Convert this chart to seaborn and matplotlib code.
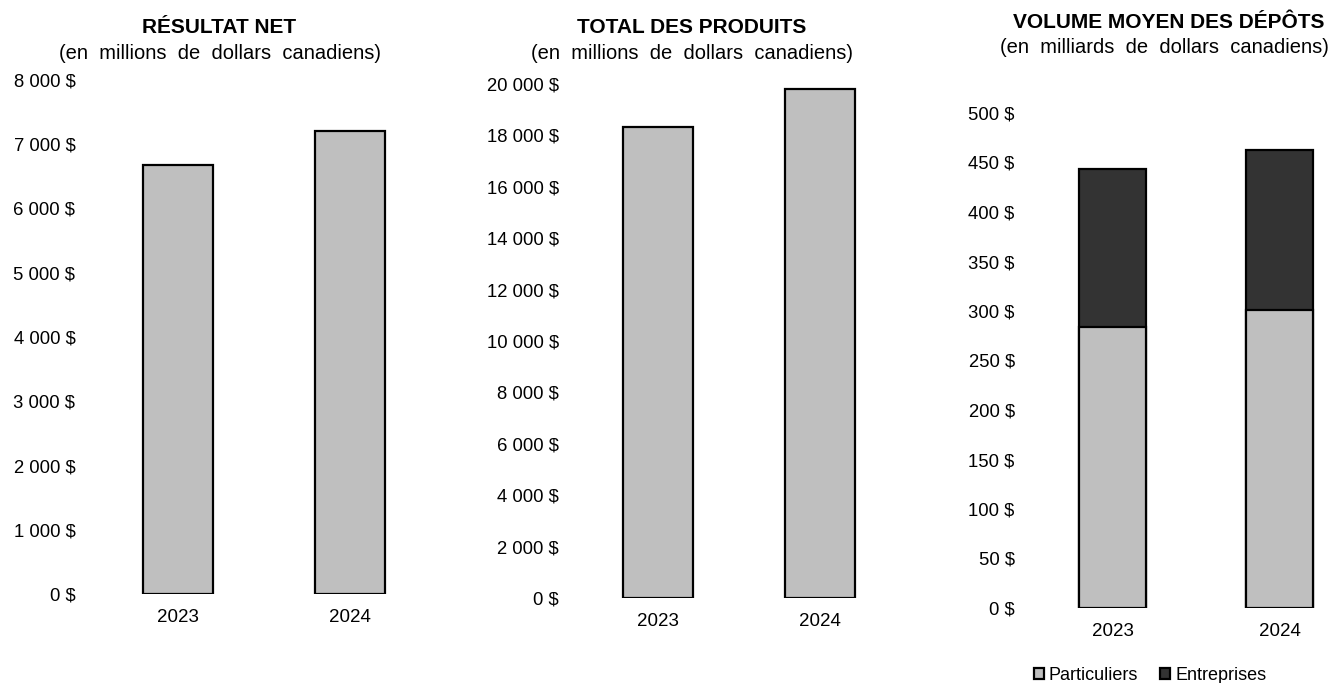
import numpy as np
import pandas as pd
import matplotlib
matplotlib.use('Agg')
import matplotlib.pyplot as plt
from matplotlib.ticker import FuncFormatter
from matplotlib.patches import Patch
import seaborn as sns

annees = ['2023', '2024']
resultat_net = [6677, 7206]
total_produits = [18330, 19805]
particuliers = [283.8, 301.0]
entreprises = [159.6, 161.6]

sns.set_style('white')
plt.rcParams['font.family'] = ['Liberation Sans', 'DejaVu Sans']
plt.rcParams['text.color'] = 'black'
plt.rcParams['xtick.color'] = 'black'
plt.rcParams['ytick.color'] = 'black'

gris = '#bfbfbf'
fonce = '#333333'

W, H = 1331, 683
fig = plt.figure(figsize=(W / 100, H / 100), dpi=100)


def px_axes(left, width, y0, ytop):
    return fig.add_axes([left / W, (H - y0) / H, width / W, (y0 - ytop) / H])


def fmt(v, pos):
    return f"{int(round(v)):,} $".replace(',', ' ')


def style(ax, ymax, step, pad):
    ax.set_ylim(0, ymax)
    ax.set_yticks(np.arange(0, ymax + 1, step))
    ax.yaxis.set_major_formatter(FuncFormatter(fmt))
    ax.set_xlabel('')
    ax.set_ylabel('')
    sns.despine(ax=ax, left=True, bottom=True)
    ax.tick_params(axis='y', length=0, pad=pad, labelsize=13.3)
    ax.tick_params(axis='x', length=0, pad=10.5, labelsize=13.5)


# panneau 1
df1 = pd.DataFrame({'annee': annees, 'val': resultat_net})
ax1 = px_axes(92, 344, 594, 80)
sns.barplot(data=df1, x='annee', y='val', color=gris, edgecolor='black',
            linewidth=1.6, width=0.41, saturation=1, ax=ax1)
ax1.set_xlim(-0.5, 1.5)
style(ax1, 8000, 1000, 12)

# panneau 2
df2 = pd.DataFrame({'annee': annees, 'val': total_produits})
ax2 = px_axes(577, 324, 598, 84)
sns.barplot(data=df2, x='annee', y='val', color=gris, edgecolor='black',
            linewidth=1.6, width=0.43, saturation=1, ax=ax2)
ax2.set_xlim(-0.5, 1.5)
style(ax2, 20000, 2000, 13)

# panneau 3 (empile)
df3 = pd.DataFrame({'annee': annees,
                    'part': particuliers,
                    'total': np.array(particuliers) + np.array(entreprises)})
ax3 = px_axes(1021, 309, 608, 113)
sns.barplot(data=df3, x='annee', y='total', color=fonce, edgecolor='black',
            linewidth=1.6, width=0.4, saturation=1, ax=ax3)
sns.barplot(data=df3, x='annee', y='part', color=gris, edgecolor='black',
            linewidth=1.6, width=0.4, saturation=1, ax=ax3)
ax3.set_xlim(-0.55, 1.3)
style(ax3, 500, 50, 4.5)


# titres
def titre(x, y, s, bold=False, size=14.5):
    fig.text(x / W, 1 - y / H, s, ha='center', va='baseline', fontsize=size,
             fontweight='bold' if bold else 'normal')


titre(219, 33, 'RÉSULTAT NET', bold=True, size=15)
titre(220, 59, '(en  millions  de  dollars  canadiens)')
titre(692, 33, 'TOTAL DES PRODUITS', bold=True, size=15)
titre(692, 59, '(en  millions  de  dollars  canadiens)')
titre(1169, 28, 'VOLUME MOYEN DES DÉPÔTS', bold=True, size=15)
titre(1164, 53, '(en  milliards  de  dollars  canadiens)')

handles = [Patch(facecolor=gris, edgecolor='black', linewidth=1.6, label='Particuliers'),
           Patch(facecolor=fonce, edgecolor='black', linewidth=1.6, label='Entreprises')]
fig.legend(handles=handles, loc='center', bbox_to_anchor=(1150 / W, 1 - 675 / H),
           ncol=2, frameon=False, fontsize=13, handlelength=0.55, handleheight=0.55,
           handletextpad=0.3, columnspacing=1.2)

fig.savefig('out.png', dpi=100)
